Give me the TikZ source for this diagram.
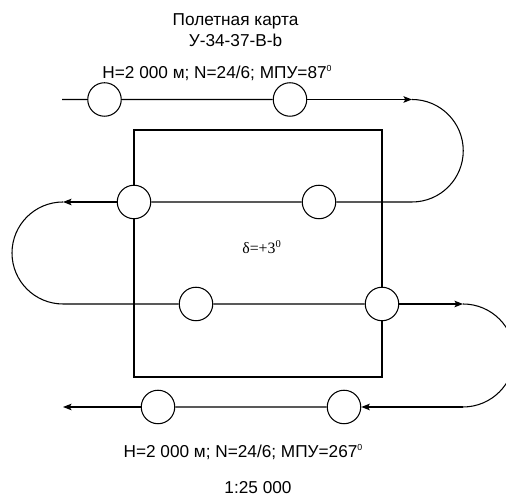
\documentclass[tikz,border=0pt]{standalone}
\usepackage{fontspec}
\setmainfont{Liberation Sans}
\newfontfamily\serifrm{Liberation Serif}
\usetikzlibrary{arrows.meta}
\newcommand{\supzero}{\raisebox{0.8ex}{\fontsize{5}{6}\selectfont 0}}
\tikzset{
    route/.style={line width=0.6pt},
    fixpt/.style={draw, circle, fill=white, line width=0.6pt, minimum size=0.67cm, inner sep=0pt},
    label/.style={font=\fontsize{9.8}{11.8}\selectfont, align=center, inner sep=0pt},
    >={Stealth[length=1.7mm, width=1.3mm, inset=0.35mm]}
}

\begin{document}
\begin{tikzpicture}
    \useasboundingbox (0, 0) rectangle (10.12, 9.94);

    \draw[route] (2.68, 2.40) rectangle (7.64, 7.34);

    \coordinate (s1) at (1.24, 7.95);
    \coordinate (t1) at (8.24, 7.95);
    \coordinate (s2) at (8.24, 5.90);
    \coordinate (t2) at (1.26, 5.90);
    \coordinate (s3) at (1.26, 3.86);
    \coordinate (t3) at (9.26, 3.86);
    \coordinate (s4) at (9.26, 1.80);
    \coordinate (t4) at (1.26, 1.80);

    \node[fixpt] (p11) at (2.09, 7.95) {};
    \node[fixpt] (p12) at (5.80, 7.95) {};
    \node[fixpt] (p21) at (2.68, 5.90) {};
    \node[fixpt] (p22) at (6.38, 5.90) {};
    \node[fixpt] (p31) at (3.92, 3.86) {};
    \node[fixpt] (p32) at (7.64, 3.86) {};
    \node[fixpt] (p41) at (3.16, 1.80) {};
    \node[fixpt] (p42) at (6.88, 1.80) {};

    \draw[route]
    (s1) -- (p11)
    (p11) -- (p12)
    (p12) edge[->] (t1)
    (t1) arc[start angle=90, end angle=-90, radius=1.025]
    (s2) -- (p22)
    (p22) -- (p21)
    (p21) edge[->] (t2)
    (t2) arc[start angle=90, end angle=270, radius=1.02]
    (s3) -- (p31)
    (p31) -- (p32)
    (p32) edge[->] (t3)
    (t3) arc[start angle=90, end angle=-90, radius=1.03]
    (s4) edge[->] (p42)
    (p42) -- (p41)
    (p41) edge[->] (t4);

    \node[label] (title) at (4.71, 9.33) {Полетная карта\\У-34-37-В-b};
    \node[label] (hdr1) at (4.34, 8.48) {H=2 000 м; N=24/6; МПУ=87\supzero};
    \node[label, font=\serifrm\fontsize{9}{11}\selectfont] (delta) at (5.24, 5.00) {δ=+3\textsuperscript{0}};
    \node[label] (hdr2) at (4.86, 0.90) {H=2 000 м; N=24/6; МПУ=267\supzero};
    \node[label] (scale) at (5.16, 0.18) {1:25 000};
\end{tikzpicture}
\end{document}
